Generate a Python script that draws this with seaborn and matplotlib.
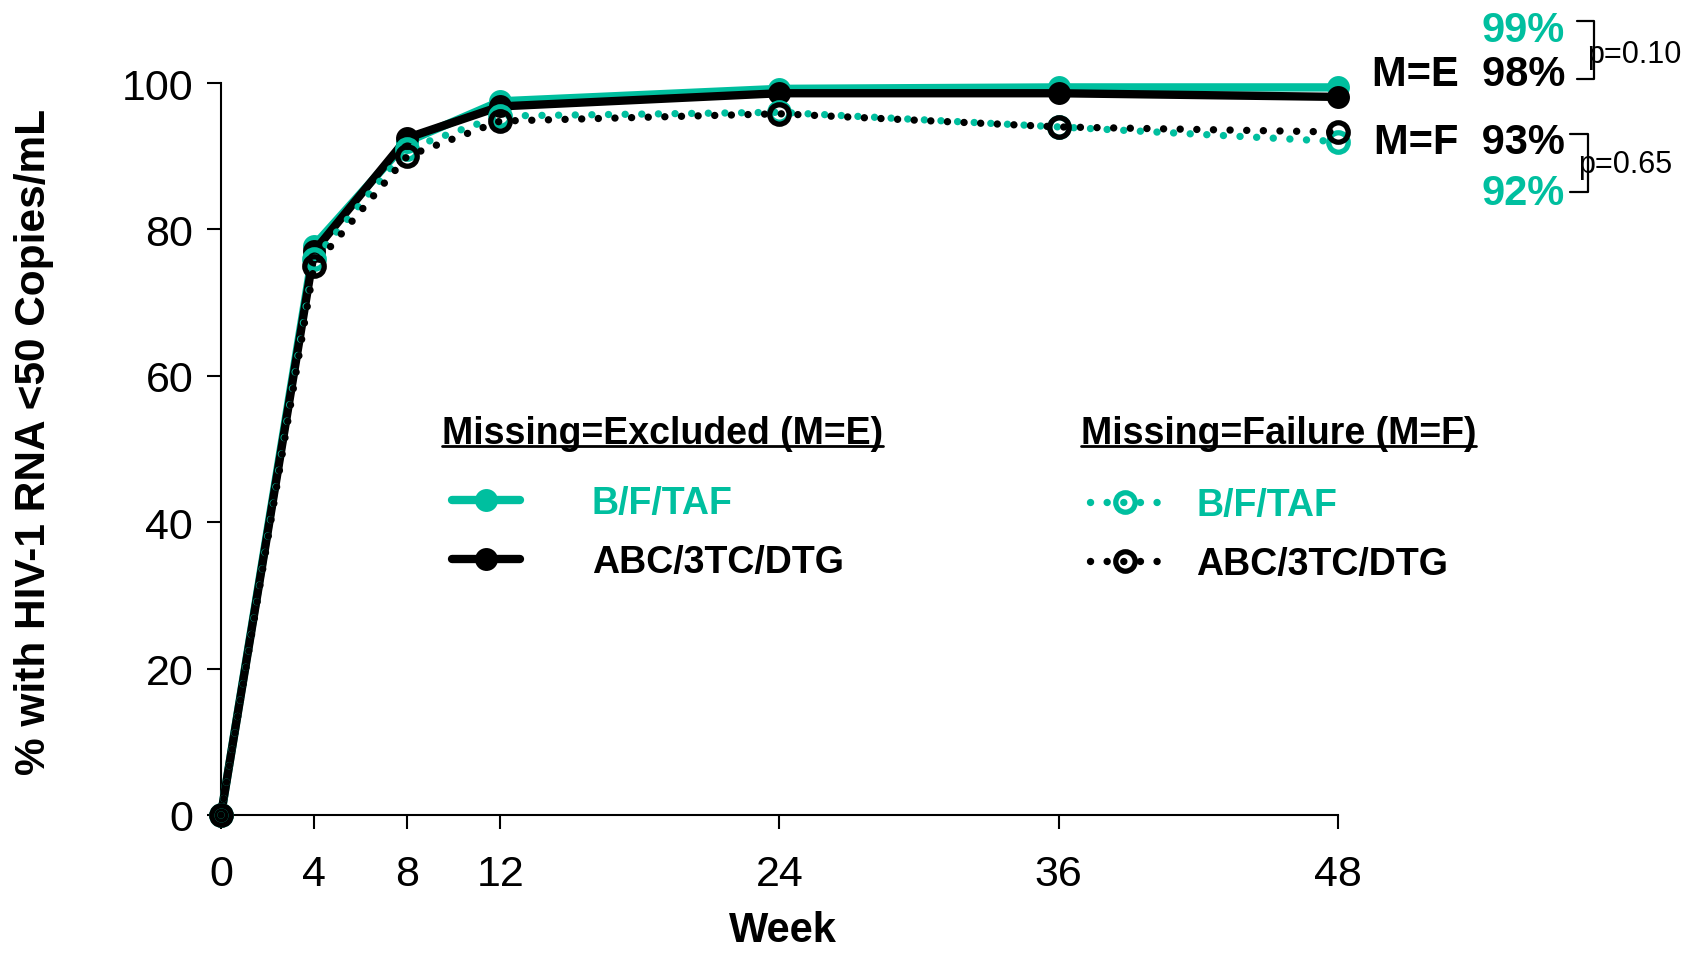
import matplotlib
matplotlib.use("Agg")
import matplotlib.pyplot as plt
import seaborn as sns
from matplotlib.lines import Line2D

# ---------------- data ----------------
weeks = [0, 4, 8, 12, 24, 36, 48]
bft_excluded = [0, 77.8, 92.0, 97.5, 99.2, 99.4, 99.4]
abc_excluded = [0, 77.0, 92.5, 96.8, 98.6, 98.6, 98.1]
bft_failure = [0, 76.0, 91.0, 95.5, 96.0, 94.0, 92.0]
abc_failure = [0, 75.0, 90.0, 94.8, 95.8, 94.0, 93.3]
y_ticks = [0, 20, 40, 60, 80, 100]
arm_names = ["B/F/TAF", "ABC/3TC/DTG"]
group_titles = ["Missing=Excluded (M=E)", "Missing=Failure (M=F)"]
p_values = ["p=0.10", "p=0.65"]

TEAL = "#00BF9F"
BLACK = "#000000"

sns.set_theme(style="ticks")
plt.rcParams["font.family"] = ["Liberation Sans", "DejaVu Sans"]

W, H = 1690, 954
fig = plt.figure(figsize=(W / 100, H / 100), dpi=100)
ax = fig.add_axes([221 / W, 138 / H, 1117 / W, 732 / H])


def px(x, y):
    return x / W, 1 - y / H


def solid(values, color, z):
    sns.lineplot(x=weeks, y=values, ax=ax, color=color, lw=6.0, marker="o",
                 ms=16.5, markeredgewidth=0, markeredgecolor=color,
                 errorbar=None, clip_on=False, zorder=z)


def dotted(values, color, z):
    sns.lineplot(x=weeks, y=values, ax=ax, color=color, lw=5.3,
                 linestyle=(0, (0.01, 2.25)), dash_capstyle="round",
                 marker="o", ms=14, markerfacecolor="none",
                 markeredgecolor=color, markeredgewidth=3.8,
                 errorbar=None, clip_on=False, zorder=z)


solid(bft_excluded, TEAL, 3)
solid(abc_excluded, BLACK, 4)
dotted(bft_failure, TEAL, 5)
dotted(abc_failure, BLACK, 6)
lines = ax.get_lines()

ax.set_xlim(0, 48)
ax.set_ylim(0, 100)
ax.set_xticks(weeks)
ax.set_yticks(y_ticks)
ax.set_xticklabels([str(w) for w in weeks])
ax.set_yticklabels([str(t) for t in y_ticks])
for s in ["top", "right"]:
    ax.spines[s].set_visible(False)
for s in ["left", "bottom"]:
    ax.spines[s].set_color("black")
    ax.spines[s].set_linewidth(1.5)
ax.tick_params(axis="both", direction="out", length=10, width=1.5,
               color="black", labelcolor="black", labelsize=31)
ax.tick_params(axis="x", pad=18)
ax.tick_params(axis="y", pad=10)

ax.set_xlabel("Week", fontsize=30, weight="bold", color="black")
ax.xaxis.set_label_coords((783 - 221) / 1117, -(931 - 816) / 732)
ax.xaxis.label.set_va("center")
ax.set_ylabel("% with HIV-1 RNA <50 Copies/mL", fontsize=30.5, weight="bold",
              color="black")
ax.yaxis.set_label_coords((34 - 221) / 1117, (816 - 442) / 732)
ax.yaxis.label.set_va("center")

# ---------------- legends ----------------
leg_kw = dict(frameon=False, borderpad=0, borderaxespad=0, numpoints=1,
              prop={"weight": "bold", "size": 27}, labelcolor=[TEAL, BLACK],
              labelspacing=0.62, bbox_transform=fig.transFigure,
              loc="upper left")
fig.legend(lines[0:2], arm_names, handlelength=1.81, handletextpad=1.92,
           bbox_to_anchor=px(452, 486), **leg_kw)
fig.legend(lines[2:4], arm_names, handlelength=1.87, handletextpad=0.96,
           bbox_to_anchor=px(1090, 488), **leg_kw)

titles = []
for label, x in zip(group_titles, [442, 1081]):
    titles.append(fig.text(*px(x, 434), label, fontsize=27, weight="bold",
                           ha="left", va="center", color="black"))

# ---------------- end-point annotations ----------------
ann_font = dict(fontsize=30, weight="bold", ha="right", va="center")
fig.text(*px(1565, 31), f"{round(bft_excluded[-1])}%", color=TEAL, **ann_font)
fig.text(*px(1565, 75), f"M=E  {round(abc_excluded[-1])}%", color=BLACK, **ann_font)
fig.text(*px(1565, 143), f"M=F  {round(abc_failure[-1])}%", color=BLACK, **ann_font)
fig.text(*px(1565, 194), f"{round(bft_failure[-1])}%", color=TEAL, **ann_font)

for (x1, x2, y1, y2), ptxt, (tx, ty) in zip(
        [(1577, 1594, 22, 80), (1570, 1588, 135, 193)], p_values,
        [(1587, 55), (1578, 165)]):
    xs = [x1, x2, x2, x1]
    ys = [y1, y1, y2, y2]
    fig.add_artist(Line2D([x / W for x in xs], [1 - y / H for y in ys],
                          transform=fig.transFigure, color="black", lw=1.6))
    fig.text(*px(tx, ty), ptxt, fontsize=22, ha="left", va="center",
             color="black")

# underline the legend titles
fig.canvas.draw()
r = fig.canvas.get_renderer()
for t in titles:
    bb = t.get_window_extent(renderer=r)
    yline = bb.y0 + 5
    fig.add_artist(Line2D([bb.x0 / W, bb.x1 / W], [yline / H, yline / H],
                          transform=fig.transFigure, color="black", lw=2.0))

fig.savefig("out.png", dpi=100)
